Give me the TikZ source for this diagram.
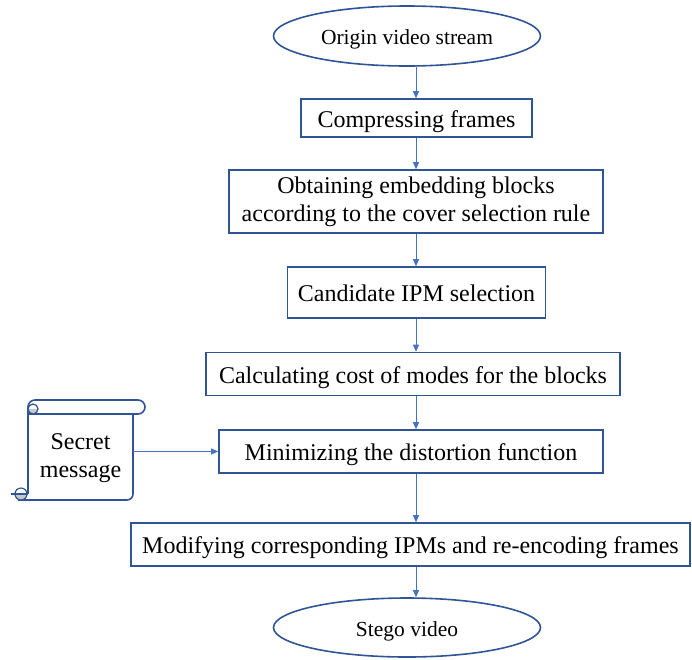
\documentclass[tikz,border=0pt]{standalone}
\usepackage{fontspec}
\setmainfont{Liberation Serif}
\usetikzlibrary{arrows.meta,shapes.geometric}
\definecolor{boxblue}{HTML}{2F5597}
\definecolor{arrblue}{HTML}{4472C4}
\definecolor{curlgray}{HTML}{C8C8C8}
\tikzset{
  stepbox/.style={draw=boxblue,line width=1.6pt,fill=white,inner sep=0pt,align=center,
    font=\fontsize{24}{28}\selectfont},
  onestep/.style={stepbox,text height=23pt,text depth=5pt},
  terminal/.style={ellipse,draw=boxblue,line width=1.6pt,fill=white,inner sep=0pt,
    font=\fontsize{21.5}{26}\selectfont,text height=22pt,text depth=4.7pt},
  arr/.style={draw=arrblue,line width=0.9pt,-{Triangle[length=7pt,width=6pt]}},
  scrollline/.style={draw=boxblue,line width=1.6pt,line join=round}
}
\begin{document}
\begin{tikzpicture}[x=1pt,y=-1pt]
\useasboundingbox (0,0) rectangle (692,659);
% axis of the main flow
\coordinate (ax) at (416,0);
% nodes
\node[terminal,minimum width=267pt,minimum height=60pt] (orig) at (407,36) {Origin video stream};
\node[onestep,minimum width=231pt,minimum height=38pt] (comp) at (416.5,118) {Compressing frames};
\node[stepbox,minimum width=374pt,minimum height=63pt] (obt) at (416,201.5) {Obtaining embedding blocks\\according to the cover selection rule};
\node[onestep,minimum width=258pt,minimum height=51pt] (cand) at (416.5,292.5) {Candidate IPM selection};
\node[onestep,minimum width=414pt,minimum height=43pt] (calc) at (413,374) {Calculating cost of modes for the blocks};
\node[onestep,minimum width=384pt,minimum height=43pt] (mini) at (411,451.5) {Minimizing the distortion function};
\node[onestep,minimum width=559pt,minimum height=43pt] (modi) at (410.5,544.5) {Modifying corresponding IPMs and re-encoding frames};
\node[terminal,minimum width=267pt,minimum height=59pt] (steg) at (407,627.5) {Stego video};
% scroll shape (secret message)
\fill[white] (28,407) rectangle (133,500);
% body
\draw[scrollline,rounded corners=6pt] (133,410) -- (133,500) -- (18,500);
\draw[scrollline] (28,408) -- (28,494);
% top roll
\draw[scrollline,fill=white,rounded corners=7pt] (28,420) -- (28,400) -- (145,400) -- (145,414) -- (60,414);
\draw[scrollline] (60,414) -- (28,414);
% top curl
\begin{scope}
  \clip (27,409) rectangle (39,415);
  \fill[curlgray] (33,409) circle[radius=5];
\end{scope}
\draw[scrollline,line width=1.2pt] (33,409) circle[radius=5];
% bottom curl
\begin{scope}
  \clip (14,494) rectangle (28,501);
  \fill[curlgray] (21,494) circle[radius=6];
\end{scope}
\draw[scrollline,line width=1.2pt] (21,494) circle[radius=6];
\draw[scrollline,line width=1.2pt] (11,494) -- (28,494);
\node[inner sep=0pt,minimum width=105pt,minimum height=86pt,align=center,
  font=\fontsize{24}{28}\selectfont] (sm) at (80.5,458) {Secret\\message};
% connectors
\draw[arr] (orig.south -| ax) -- (comp.north -| ax);
\draw[arr] (comp.south -| ax) -- (obt.north -| ax);
\draw[arr] (obt.south -| ax) -- (cand.north -| ax);
\draw[arr] (cand.south -| ax) -- (calc.north -| ax);
\draw[arr] (calc.south -| ax) -- (mini.north -| ax);
\draw[arr] (mini.south -| ax) -- (modi.north -| ax);
\draw[arr] (modi.south -| ax) -- (steg.north -| ax);
\draw[arr] (sm.east |- mini.west) -- (mini.west);
\end{tikzpicture}
\end{document}
